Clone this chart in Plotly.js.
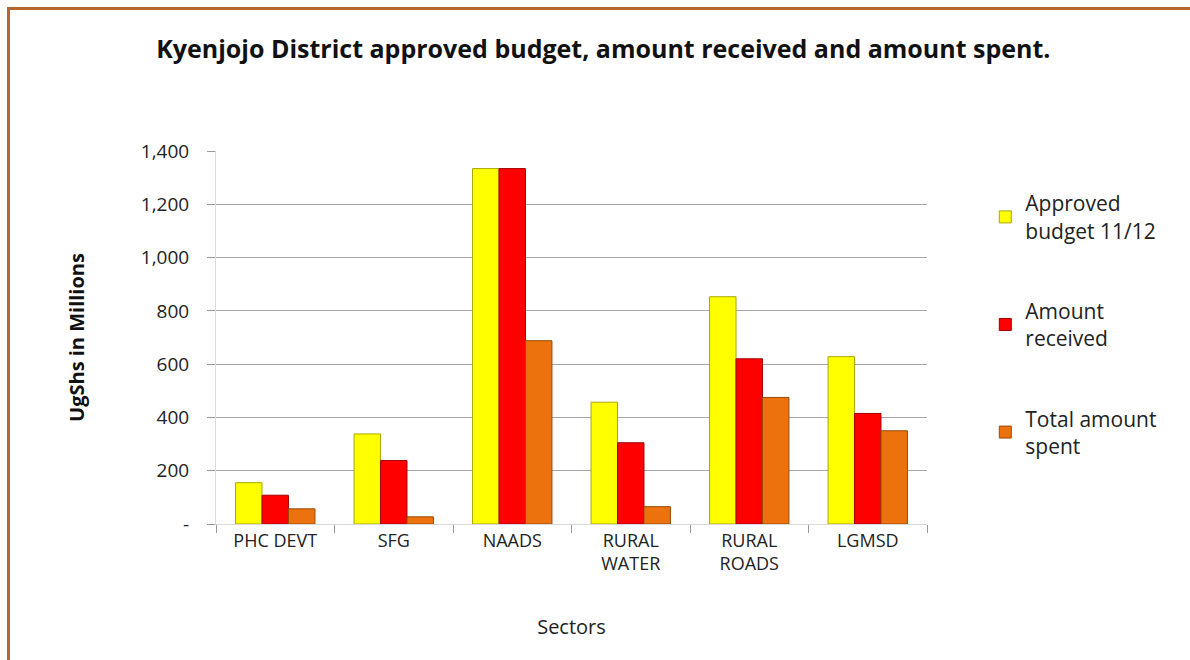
<!DOCTYPE html>
<html>
<head>
<meta charset="utf-8">
<script src="https://cdn.plot.ly/plotly-3.0.1.min.js"></script>
<style>
html,body{margin:0;padding:0;background:#fff;overflow:hidden;}
#chart{width:1190px;height:660px;position:absolute;left:0;top:0;}
#frame{position:absolute;left:7px;top:7px;width:1300px;height:800px;border-left:3px solid #B5652E;border-top:3px solid #B5652E;pointer-events:none;}
</style>
</head>
<body>
<div id="chart"></div>
<div id="frame"></div>
<script>
const categories = ["PHC DEVT", "SFG", "NAADS", "RURAL<br>WATER", "RURAL<br>ROADS", "LGMSD"];
const approvedBudget = [155, 338, 1334, 457, 853, 628];
const amountReceived = [108, 238, 1334, 305, 620, 415];
const amountSpent = [57, 27, 688, 65, 475, 350];
const seriesNames = ["Approved<br>budget 11/12", "Amount<br>received", "Total amount<br>spent"];
const yTickVals = [0, 200, 400, 600, 800, 1000, 1200, 1400];
const yTickText = ["-", "200", "400", "600", "800", "1,000", "1,200", "1,400"];

const fills = ["#FFFF00", "#FF0000", "#EC720E"];
const edges = ["#A8A800", "#A00000", "#9A4A08"];
const series = [approvedBudget, amountReceived, amountSpent];

const traces = series.map((vals, i) => ({
  type: "bar",
  x: categories,
  y: vals,
  name: seriesNames[i],
  legendgroup: "g" + i,
  marker: {color: fills[i], line: {color: edges[i], width: 1}},
  hoverinfo: "x+y+name"
}));

const font = "Open Sans, Noto Sans, sans-serif";
const layout = {
  width: 1190, height: 660,
  paper_bgcolor: "#ffffff", plot_bgcolor: "#ffffff",
  margin: {l: 216, r: 263, t: 151, b: 136},
  font: {family: font, size: 15, color: "#222"},
  title: {
    text: "<b>Kyenjojo District approved budget, amount received and amount spent.</b>",
    font: {family: font, size: 25, color: "#111"},
    x: 0.507, xanchor: "center", y: 0.926, yanchor: "middle"
  },
  barmode: "group",
  bargap: 0.33,
  bargroupgap: 0,
  xaxis: {
    type: "category",
    showgrid: false,
    showline: true, linecolor: "#d9d9d9", linewidth: 1,
    ticks: "outside", tickson: "boundaries", ticklen: 8, tickcolor: "#999",
    tickfont: {family: font, size: 18, color: "#222"},
    title: {text: "Sectors", font: {family: font, size: 20, color: "#222"}, standoff: 45}
  },
  yaxis: {
    range: [0, 1400],
    tickvals: yTickVals, ticktext: yTickText,
    showgrid: true, gridcolor: "#a6a6a6", gridwidth: 1,
    zeroline: false,
    showline: true, linecolor: "#dcdcdc", linewidth: 1,
    ticks: "outside", ticklen: 8, tickcolor: "#999",
    ticklabelstandoff: 14,
    tickfont: {family: font, size: 19, color: "#222"},
    title: {text: "<b>UgShs in Millions</b>", font: {family: font, size: 20, color: "#111"}, standoff: 50}
  },
  legend: {
    x: 1.082, xanchor: "left", y: 0.914, yanchor: "top",
    font: {family: font, size: 21, color: "#222"},
    tracegroupgap: 50,
    itemwidth: 30,
    bgcolor: "rgba(0,0,0,0)"
  },
  showlegend: true
};

Plotly.newPlot("chart", traces, layout, {displayModeBar: false, staticPlot: true});
</script>
</body>
</html>
